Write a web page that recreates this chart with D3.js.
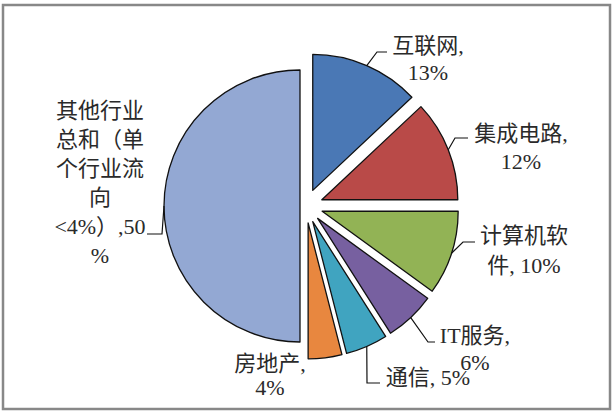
<!DOCTYPE html>
<html>
<head>
<meta charset="utf-8">
<script src="https://cdn.jsdelivr.net/npm/d3@7"></script>
<style>
  body { margin: 0; background: #fff; }
  svg text { font-family: "Liberation Serif", "Noto Sans CJK SC", serif; }
</style>
</head>
<body>
<div id="chart"></div>
<script>
// industry flows (%)
const categories = ["互联网", "集成电路", "计算机软件", "IT服务", "通信", "房地产", "其他行业总和（单个行业流向<4%）"];
const shares = [13, 12, 10, 6, 5, 4, 50];
const labelLines = [
  ["互联网,", "13%"],
  ["集成电路,", "12%"],
  ["计算机软", "件, 10%"],
  ["IT服务,", "6%"],
  ["通信, 5%"],
  ["房地产,", "4%"],
  ["其他行业", "总和（单", "个行业流", "向", "<4%）,50", "%"]
];
const colors = ["#4a78b5", "#b94a48", "#92b355", "#7760a0", "#40a4c0", "#e8873f", "#93a8d3"];

const width = 614, height = 413;
const cx = 306, cy = 206, radius = 136;

// label placement: text centre x, first baseline, line step, leader elbow + end
const labelLayout = [
  { x: 428, y: 53,  step: 27, elbow: [377, 52],  end: [387, 52] },
  { x: 521, y: 141, step: 28, elbow: [455, 138], end: [468, 138] },
  { x: 524, y: 243, step: 30, elbow: [463, 242], end: [475, 242] },
  { x: 475, y: 343, step: 27, elbow: [428, 342], end: [435, 342] },
  { x: 428, y: 385, step: 28, elbow: [367, 383], end: [380, 383] },
  { x: 270, y: 371, step: 24, elbow: null,       end: null },
  { x: 100, y: 118, step: 29, elbow: [162, 234], end: [147, 234] }
];

const data = categories.map((name, i) => ({ name, value: shares[i], i }));

const svg = d3.select("#chart")
  .append("svg")
  .attr("width", width)
  .attr("height", height);

svg.append("rect")
  .attr("x", 3).attr("y", 5)
  .attr("width", 607).attr("height", 404)
  .attr("fill", "#fff")
  .attr("stroke", "#888")
  .attr("stroke-width", 2.5);

const pie = d3.pie().sort(null).value(d => d.value);
const arcs = pie(data);
const arc = d3.arc().innerRadius(0).outerRadius(radius);

// small slices pulled out more than the big one
const explode = d => d.data.i === 6 ? 6 : 17;
const offset = (d, r) => {
  const a = (d.startAngle + d.endAngle) / 2;
  return [Math.sin(a) * r, -Math.cos(a) * r];
};

const g = svg.append("g").attr("transform", `translate(${cx},${cy})`);

g.selectAll("path")
  .data(arcs)
  .enter()
  .append("path")
  .attr("transform", d => {
    const [dx, dy] = offset(d, explode(d));
    return `translate(${dx},${dy})`;
  })
  .attr("d", arc)
  .attr("fill", d => colors[d.data.i])
  .attr("stroke", "#111")
  .attr("stroke-width", 1.3)
  .attr("stroke-linejoin", "round");

// leader lines
arcs.forEach(d => {
  const L = labelLayout[d.data.i];
  if (!L.end) return;
  const [ex, ey] = offset(d, explode(d));
  const [sx, sy] = offset(d, radius);
  const pts = [[cx + ex + sx, cy + ey + sy], L.elbow, L.end];
  svg.append("path")
    .attr("d", d3.line()(pts))
    .attr("fill", "none")
    .attr("stroke", "#111")
    .attr("stroke-width", 1.2);
});

// labels
arcs.forEach(d => {
  const L = labelLayout[d.data.i];
  const t = svg.append("text")
    .attr("text-anchor", "middle")
    .attr("font-size", 22)
    .attr("fill", "#2a2a2a");
  labelLines[d.data.i].forEach((line, k) => {
    t.append("tspan")
      .attr("x", L.x)
      .attr("y", L.y + k * L.step)
      .text(line);
  });
});
</script>
</body>
</html>
